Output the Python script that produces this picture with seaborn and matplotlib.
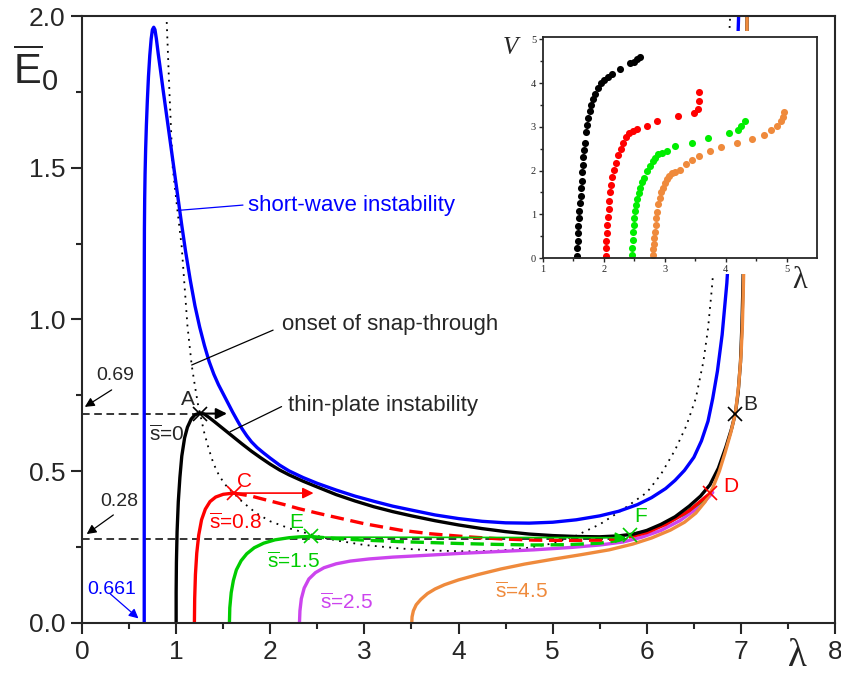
import matplotlib
matplotlib.use("Agg")
import matplotlib.pyplot as plt
from matplotlib.patches import Rectangle
import seaborn as sns

# ---- main chart curves (lambda, E0) ----
blue_lam = [0.661, 0.661, 0.662, 0.663, 0.666, 0.670, 0.676, 0.684, 0.694, 0.706, 0.72, 0.735, 0.748,
            0.762, 0.775, 0.79, 0.81, 0.83, 0.86, 0.90, 0.94, 0.98, 1.02, 1.06, 1.10, 1.15, 1.20,
            1.25, 1.30, 1.35, 1.40, 1.45, 1.50, 1.55, 1.60, 1.65, 1.70, 1.75, 1.80, 1.86, 1.93, 2.0,
            2.1, 2.2, 2.35, 2.5, 2.7, 2.9, 3.1, 3.3, 3.5, 3.75, 4.0, 4.25, 4.5, 4.75, 5.0, 5.25,
            5.5, 5.7, 5.9, 6.05, 6.2, 6.3, 6.4, 6.5, 6.58, 6.65, 6.7, 6.75, 6.8, 6.85, 6.9, 6.94,
            6.975]
blue_E = [0.0, 1.0, 1.2, 1.3, 1.4, 1.48, 1.56, 1.64, 1.72, 1.80, 1.87, 1.925, 1.955,
          1.963, 1.955, 1.925, 1.875, 1.83, 1.76, 1.67, 1.58, 1.49, 1.40, 1.31, 1.225, 1.13, 1.045,
          0.975, 0.915, 0.862, 0.82, 0.785, 0.755, 0.725, 0.695, 0.667, 0.64, 0.617, 0.597, 0.578, 0.56, 0.543,
          0.52, 0.501, 0.479, 0.46, 0.438, 0.418, 0.401, 0.385, 0.372, 0.356, 0.344, 0.335, 0.33, 0.329, 0.332, 0.34,
          0.353, 0.368, 0.39, 0.413, 0.443, 0.47, 0.503, 0.546, 0.60, 0.665, 0.74, 0.83, 0.95, 1.12, 1.37, 1.66,
          2.0]

black_lam = [1.0, 1.0, 1.003, 1.01, 1.023, 1.04, 1.06, 1.09, 1.12, 1.16, 1.2, 1.254, 1.3, 1.35, 1.4,
             1.5, 1.6, 1.7, 1.8, 1.9, 2.0, 2.1, 2.2, 2.35, 2.5, 2.7, 2.9, 3.1, 3.3, 3.5, 3.75, 4.0,
             4.25, 4.5, 4.75, 5.0, 5.25, 5.5, 5.7, 5.86, 6.0, 6.15, 6.3, 6.45, 6.57, 6.67, 6.76,
             6.84, 6.9, 6.94, 6.97, 6.995, 7.01, 7.02, 7.03, 7.04, 7.05, 7.058, 7.065]
black_E = [0.0, 0.1, 0.2, 0.3, 0.4, 0.48, 0.55, 0.61, 0.645, 0.672, 0.686, 0.692, 0.688, 0.677, 0.665,
           0.64, 0.615, 0.59, 0.566, 0.544, 0.523, 0.504, 0.488, 0.467, 0.448, 0.423, 0.402, 0.383, 0.367, 0.353, 0.337,
           0.323, 0.311, 0.301, 0.293, 0.288, 0.285, 0.284, 0.287, 0.293, 0.305, 0.325, 0.35, 0.385, 0.418, 0.455,
           0.51, 0.58, 0.64, 0.69, 0.76, 0.86, 0.98, 1.1, 1.25, 1.4, 1.6, 1.8, 2.0]

red_lam = [1.194, 1.197, 1.205, 1.219, 1.24, 1.27, 1.31, 1.36, 1.42, 1.5, 1.61]
red_E = [0.0, 0.08, 0.16, 0.23, 0.29, 0.34, 0.375, 0.40, 0.415, 0.424, 0.428]
red_dash_lam = [1.61, 1.8, 1.96, 2.15, 2.3, 2.5, 2.67, 3.0, 3.38, 3.7, 4.09, 4.45, 4.8, 5.15, 5.5, 5.7, 5.85]
red_dash_E = [0.428, 0.418, 0.405, 0.39, 0.377, 0.362, 0.35, 0.327, 0.306, 0.294, 0.284, 0.277, 0.273, 0.272,
              0.273, 0.278, 0.286]
red_up_lam = [5.85, 6.0, 6.2, 6.45, 6.67]
red_up_E = [0.286, 0.298, 0.325, 0.37, 0.427]

green_lam = [1.566, 1.57, 1.585, 1.608, 1.64, 1.69, 1.75, 1.83, 1.93, 2.05, 2.2, 2.32, 2.43]
green_E = [0.0, 0.05, 0.1, 0.14, 0.175, 0.205, 0.228, 0.248, 0.263, 0.274, 0.281, 0.284, 0.285]
green_dash_lam = [2.43, 2.7, 3.0, 3.38, 3.7, 4.0, 4.4, 4.79, 5.15, 5.5, 5.7, 5.82]
green_dash_E = [0.285, 0.278, 0.273, 0.268, 0.265, 0.262, 0.259, 0.257, 0.258, 0.263, 0.272, 0.285]
green_up_lam = [5.82, 6.0, 6.2, 6.4, 6.6]
green_up_E = [0.29, 0.302, 0.327, 0.36, 0.405]

magenta_lam = [2.31, 2.315, 2.33, 2.36, 2.41, 2.48, 2.57, 2.7, 2.85, 3.05, 3.3, 3.6, 4.0, 4.4, 4.8,
               5.2, 5.5, 5.75, 5.95, 6.15, 6.35, 6.5, 6.6, 6.7]
magenta_E = [0.0, 0.04, 0.08, 0.115, 0.145, 0.166, 0.182, 0.195, 0.204, 0.211, 0.217, 0.222, 0.229, 0.235,
             0.241, 0.249, 0.257, 0.267, 0.283, 0.305, 0.337, 0.37, 0.395, 0.43]

orange_lam = [3.503, 3.506, 3.52, 3.55, 3.6, 3.67, 3.75, 3.85, 4.0, 4.2, 4.45, 4.7, 5.0, 5.3, 5.6,
              5.85, 6.05, 6.25, 6.4, 6.52, 6.62, 6.7, 6.77, 6.83, 6.89, 6.94, 6.975, 7.0, 7.015,
              7.025, 7.035, 7.045, 7.055, 7.065]
orange_E = [0.0, 0.02, 0.04, 0.06, 0.078, 0.097, 0.112, 0.126, 0.142, 0.159, 0.178, 0.194, 0.21, 0.225, 0.241,
            0.26, 0.28, 0.306, 0.332, 0.362, 0.40, 0.445, 0.50, 0.56, 0.625, 0.69, 0.78, 0.88, 0.98,
            1.1, 1.25, 1.45, 1.7, 2.0]

snap_lam = [0.9, 0.93, 0.963, 1.01, 1.059, 1.12, 1.165, 1.2, 1.236, 1.254, 1.3, 1.35, 1.396, 1.45,
            1.5, 1.55, 1.61, 1.7, 1.85, 2.0, 2.2, 2.43, 2.7, 3.0, 3.4, 3.8, 4.1, 4.4, 4.7, 5.0,
            5.25, 5.5, 5.75, 6.0, 6.15, 6.3, 6.42, 6.52, 6.6, 6.65, 6.69, 6.73, 6.78, 6.83, 6.87, 6.885]
snap_E = [1.98, 1.74, 1.503, 1.37, 1.24, 0.98, 0.85, 0.78, 0.713, 0.69, 0.625, 0.57, 0.526, 0.49,
          0.465, 0.445, 0.428, 0.40, 0.362, 0.335, 0.312, 0.292, 0.272, 0.257, 0.245, 0.238, 0.236, 0.238, 0.246, 0.262,
          0.288, 0.325, 0.375, 0.43, 0.49, 0.57, 0.65, 0.74, 0.86, 0.97, 1.1, 1.25, 1.45, 1.68, 1.9, 2.0]

# ---- inset: V vs lambda ----
ins_black_lam = [1.561, 1.561, 1.567, 1.572, 1.578, 1.583, 1.594, 1.605, 1.616, 1.622, 1.633, 1.638,
                 1.649, 1.660, 1.671, 1.682, 1.699, 1.715, 1.737, 1.765, 1.792, 1.825, 1.858, 1.897,
                 1.946, 2.001, 2.062, 2.128, 2.26, 2.425, 2.486, 2.546, 2.596]
ins_black_V = [0.04, 0.23, 0.40, 0.57, 0.74, 0.91, 1.08, 1.26, 1.42, 1.60, 1.77, 1.96,
               2.12, 2.30, 2.47, 2.64, 2.87, 3.04, 3.20, 3.35, 3.49, 3.63, 3.76, 3.89,
               4.00, 4.06, 4.13, 4.21, 4.33, 4.45, 4.49, 4.54, 4.59]
ins_red_lam = [2.029, 2.029, 2.034, 2.045, 2.051, 2.062, 2.078, 2.089, 2.100, 2.117, 2.133, 2.161,
               2.194, 2.232, 2.276, 2.320, 2.365, 2.420, 2.475, 2.541, 2.711, 2.876, 3.217, 3.476,
               3.547, 3.564, 3.564]
ins_red_V = [0.05, 0.23, 0.40, 0.57, 0.75, 0.94, 1.13, 1.31, 1.50, 1.68, 1.86, 2.01,
             2.18, 2.35, 2.50, 2.63, 2.76, 2.85, 2.90, 2.95, 3.02, 3.13, 3.24, 3.32,
             3.41, 3.60, 3.80]
ins_green_lam = [2.464, 2.469, 2.475, 2.480, 2.486, 2.497, 2.508, 2.524, 2.546, 2.574, 2.596, 2.629,
                 2.662, 2.706, 2.750, 2.799, 2.838, 2.882, 2.953, 3.041, 3.168, 3.448, 3.713, 4.048,
                 4.202, 4.257, 4.312]
ins_green_V = [0.08, 0.24, 0.42, 0.59, 0.75, 0.91, 1.07, 1.21, 1.35, 1.48, 1.61, 1.73,
               1.84, 1.99, 2.10, 2.21, 2.29, 2.37, 2.40, 2.44, 2.55, 2.64, 2.74, 2.85,
               2.93, 3.01, 3.14]
ins_orange_lam = [2.799, 2.805, 2.816, 2.827, 2.838, 2.849, 2.860, 2.876, 2.893, 2.915, 2.942, 2.970,
                  2.997, 3.036, 3.074, 3.113, 3.168, 3.256, 3.349, 3.443, 3.564, 3.746, 3.916, 4.180,
                  4.439, 4.626, 4.741, 4.835, 4.906, 4.945, 4.962]
ins_orange_V = [0.08, 0.21, 0.33, 0.46, 0.60, 0.75, 0.91, 1.06, 1.23, 1.38, 1.50, 1.61,
                1.71, 1.81, 1.87, 1.94, 1.96, 2.02, 2.15, 2.24, 2.34, 2.44, 2.54, 2.64,
                2.72, 2.82, 2.93, 3.02, 3.13, 3.23, 3.34]

BLUE = "#0000ff"
RED = "#ff0000"
GREEN = "#00cc00"
MAGENTA = "#cc44ee"
ORANGE = "#ef8a3c"


def line(ax, x, y, color, lw=2.4, **kw):
    sns.lineplot(x=x, y=y, ax=ax, color=color, linewidth=lw, sort=False,
                 estimator=None, legend=False, **kw)


def arrow(ax, start, tip, color, lw=1.2, scale=16):
    ax.annotate("", xy=tip, xytext=start,
                arrowprops=dict(arrowstyle="-|>", color=color, lw=lw,
                                mutation_scale=scale, shrinkA=0, shrinkB=0))


sns.set_style("ticks")
plt.rcParams["font.family"] = ["Liberation Sans", "DejaVu Sans"]

fig = plt.figure(figsize=(8.41, 6.84), dpi=100)
ax = fig.add_axes([0.0975, 0.0892, 0.8955, 0.8874])

# dashed guides
line(ax, [0, 1.25], [0.69, 0.69], "black", lw=1.1, linestyle=(0, (5, 3)))
line(ax, [0, 5.8], [0.277, 0.277], "black", lw=1.1, linestyle=(0, (5, 3)))

line(ax, snap_lam, snap_E, "black", lw=1.3, linestyle=(0, (1, 3)))
line(ax, magenta_lam, magenta_E, MAGENTA)
line(ax, green_lam, green_E, GREEN)
line(ax, green_dash_lam, green_dash_E, GREEN, linestyle=(0, (4, 2)))
line(ax, green_up_lam, green_up_E, GREEN)
line(ax, red_lam, red_E, RED)
line(ax, red_dash_lam, red_dash_E, RED, linestyle=(0, (4, 2)))
line(ax, red_up_lam, red_up_E, RED)
line(ax, black_lam, black_E, "black")
line(ax, orange_lam, orange_E, ORANGE)
line(ax, blue_lam, blue_E, BLUE)

# jump arrows
arrow(ax, (1.25, 0.69), (1.54, 0.69), "black", lw=1.5)
arrow(ax, (1.61, 0.428), (2.46, 0.428), RED)
arrow(ax, (2.43, 0.283), (5.78, 0.281), GREEN)

# crosses
for (px, py), c in [((1.254, 0.69), "black"), ((6.94, 0.69), "black"),
                    ((1.61, 0.428), RED), ((6.674, 0.427), RED),
                    ((2.43, 0.286), GREEN), ((5.82, 0.29), GREEN)]:
    ax.plot(px, py, marker="x", ms=10, mew=1.2, color=c, zorder=5)

fs = 15
ax.text(1.13, 0.735, "A", fontsize=fs, ha="center", va="center")
ax.text(7.1, 0.72, "B", fontsize=fs, ha="center", va="center")
ax.text(1.73, 0.466, "C", fontsize=fs, color=RED, ha="center", va="center")
ax.text(6.89, 0.45, "D", fontsize=fs, color=RED, ha="center", va="center")
ax.text(2.28, 0.33, "E", fontsize=fs, color=GREEN, ha="center", va="center")
ax.text(5.93, 0.35, "F", fontsize=fs, color=GREEN, ha="center", va="center")

sbar = r"$\overline{\mathregular{s}}$"
ax.text(0.9, 0.62, sbar + "=0", fontsize=fs, ha="center", va="center")
ax.text(1.63, 0.33, sbar + "=0.8", fontsize=fs, color=RED, ha="center", va="center")
ax.text(2.25, 0.202, sbar + "=1.5", fontsize=fs, color=GREEN, ha="center", va="center")
ax.text(2.81, 0.068, sbar + "=2.5", fontsize=fs, color=MAGENTA, ha="center", va="center")
ax.text(4.67, 0.103, sbar + "=4.5", fontsize=fs, color=ORANGE, ha="center", va="center")

# value call-outs
ax.text(0.35, 0.815, "0.69", fontsize=14, ha="center", va="center")
arrow(ax, (0.315, 0.768), (0.03, 0.712), "black", lw=0.9, scale=14)
ax.text(0.40, 0.40, "0.28", fontsize=14, ha="center", va="center")
arrow(ax, (0.333, 0.356), (0.05, 0.293), "black", lw=0.9, scale=14)
ax.text(0.32, 0.109, "0.661", fontsize=14, color=BLUE, ha="center", va="center")
arrow(ax, (0.30, 0.096), (0.60, 0.015), BLUE, lw=0.9, scale=14)

# curve labels with leader lines
ax.text(1.76, 1.374, "short-wave instability", fontsize=16, color=BLUE, va="center")
line(ax, [1.04, 1.71], [1.36, 1.377], BLUE, lw=0.9)
ax.text(2.12, 0.982, "onset of snap-through", fontsize=16, va="center")
line(ax, [1.165, 2.03], [0.85, 0.965], "black", lw=0.9)
ax.text(2.19, 0.718, "thin-plate instability", fontsize=16, va="center")
line(ax, [1.573, 2.12], [0.63, 0.713], "black", lw=0.9)

# white backing of the inset picture
ax.add_patch(Rectangle((4.5, 1.15), 3.45, 0.80, facecolor="white",
                       edgecolor="none", zorder=6))

ax.set_xlim(0, 8)
ax.set_ylim(0, 2.0)
ax.set_xticks(range(0, 9))
ax.set_xticks([i + 0.5 for i in range(8)], minor=True)
ax.set_yticks([0, 0.5, 1.0, 1.5, 2.0])
ax.set_yticklabels(["0.0", "0.5", "1.0", "1.5", "2.0"])
ax.set_yticks([0.25, 0.75, 1.25, 1.75], minor=True)
ax.tick_params(which="major", direction="out", length=8, width=1.5, labelsize=19, pad=4)
ax.tick_params(which="minor", direction="out", length=4.5, width=1.5)
for s in ax.spines.values():
    s.set_linewidth(1.5)
    s.set_visible(True)
ax.set_xlabel("")
ax.set_ylabel("")
ax.text(-0.061, 0.914, r"$\overline{\mathregular{E}}_\mathregular{0}$", transform=ax.transAxes,
        fontsize=30, ha="center", va="center")
ax.text(0.95, -0.055, "λ", transform=ax.transAxes, fontsize=28, ha="center", va="center",
        family=["Liberation Serif", "DejaVu Serif"])

# ---- inset ----
ins = fig.add_axes([0.6457, 0.6228, 0.3258, 0.323], facecolor="white")
for xs, ys, c in [(ins_black_lam, ins_black_V, "black"), (ins_red_lam, ins_red_V, "#ff0000"),
                  (ins_green_lam, ins_green_V, "#00ee00"), (ins_orange_lam, ins_orange_V, ORANGE)]:
    sns.scatterplot(x=xs, y=ys, ax=ins, color=c, s=26, linewidth=0, legend=False)
ins.set_xlim(1, 5.5)
ins.set_ylim(0, 5.05)
ins.set_xticks([1, 2, 3, 4, 5])
ins.set_xticks([1.5, 2.5, 3.5, 4.5], minor=True)
ins.set_yticks([0, 1, 2, 3, 4, 5])
ins.set_yticks([0.5, 1.5, 2.5, 3.5, 4.5], minor=True)
ins.tick_params(which="major", direction="out", length=3, width=1, labelsize=7.5, pad=2)
ins.tick_params(which="minor", direction="out", length=2, width=1)
for lab in ins.get_xticklabels() + ins.get_yticklabels():
    lab.set_family(["Liberation Serif", "DejaVu Serif"])
for s in ins.spines.values():
    s.set_linewidth(1.3)
    s.set_visible(True)
ins.text(-0.12, 0.95, "V", transform=ins.transAxes, fontsize=18, style="italic",
         ha="center", va="center", family=["Liberation Serif", "DejaVu Serif"])
ins.text(0.935, -0.10, "λ", transform=ins.transAxes, fontsize=22,
         ha="center", va="center", family=["Liberation Serif", "DejaVu Serif"])

fig.savefig("out.png", dpi=100)
